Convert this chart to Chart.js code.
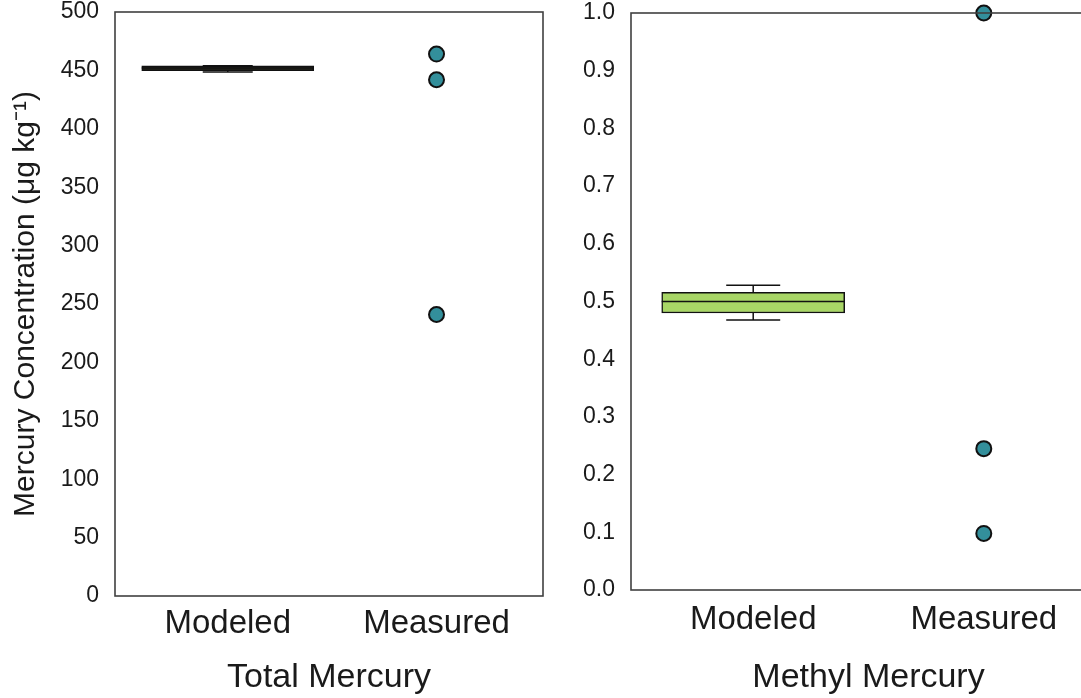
<!DOCTYPE html>
<html lang="en">
  <head>
    <meta charset="UTF-8" />
    <title>Mercury Concentration</title>
    <script src="https://cdn.jsdelivr.net/npm/chart.js"></script>
    <style>
      html,
      body {
        margin: 0;
        width: 1081px;
        height: 698px;
        overflow: hidden;
        background: #fff;
      }
      canvas {
        position: absolute;
        top: 0;
      }
      #chartTotal {
        left: 0;
      }
      #chartMethyl {
        left: 560px;
      }
    </style>
  </head>

  <body>
    <canvas id="chartTotal" width="560" height="698"></canvas>
    <canvas id="chartMethyl" width="563" height="698"></canvas>
  </body>
</html>

<script>
  // categories on the x axis (0 = Modeled, 1 = Measured)
  const categorias = ["Modeled", "Measured"];

  // box summaries: [whisker low, q1, median, q3, whisker high]
  const totalModeledBox = [448.6, 449.8, 452, 454.0, 454.0];
  const metilModeledBox = [0.468, 0.48, 0.5, 0.516, 0.528];

  // measured samples
  const totalMedido = [464, 442, 241];
  const metilMedido = [1.0, 0.245, 0.098];

  // y tick setup
  const totalTicks = { min: 0, max: 500, step: 50 };
  const metilTicks = { min: 0, max: 1, step: 0.1 };

  const fonte = "'Liberation Sans', Arial, sans-serif";
  const corTexto = "#1a1a1a";
  const corMoldura = "#404040";

  // whiskers, caps and median line drawn on top of the box bars
  const bigodes = {
    id: "bigodes",
    afterDatasetsDraw(chart, args, opts) {
      const ctx = chart.ctx;
      const x = chart.scales.x;
      const y = chart.scales.y;
      const b = opts.box;
      const cx = x.getPixelForValue(0);
      const half = opts.boxWidth / 2;
      const cap = opts.capWidth / 2;
      ctx.save();
      ctx.strokeStyle = "#111";
      ctx.lineWidth = 1.5;
      ctx.beginPath();
      // lower whisker
      ctx.moveTo(cx, y.getPixelForValue(b[1]));
      ctx.lineTo(cx, y.getPixelForValue(b[0]));
      ctx.moveTo(cx - cap, y.getPixelForValue(b[0]));
      ctx.lineTo(cx + cap, y.getPixelForValue(b[0]));
      // upper whisker
      ctx.moveTo(cx, y.getPixelForValue(b[3]));
      ctx.lineTo(cx, y.getPixelForValue(b[4]));
      ctx.moveTo(cx - cap, y.getPixelForValue(b[4]));
      ctx.lineTo(cx + cap, y.getPixelForValue(b[4]));
      // median
      ctx.moveTo(cx - half, y.getPixelForValue(b[2]));
      ctx.lineTo(cx + half, y.getPixelForValue(b[2]));
      ctx.stroke();
      ctx.restore();
    },
  };

  // frame around the plotting area
  const moldura = {
    id: "moldura",
    afterDraw(chart) {
      const a = chart.chartArea;
      const ctx = chart.ctx;
      ctx.save();
      ctx.strokeStyle = corMoldura;
      ctx.lineWidth = 1.6;
      ctx.strokeRect(a.left, a.top, a.right - a.left, a.bottom - a.top);
      ctx.restore();
    },
  };

  function criarGrafico(id, cfg) {
    const box = cfg.box;
    return new Chart(document.getElementById(id), {
      type: "scatter",
      data: {
        datasets: [
          {
            type: "bar",
            data: [{ x: 0, y: [box[1], box[3]] }],
            backgroundColor: cfg.boxColor,
            borderColor: "#111",
            borderWidth: 1.5,
            borderSkipped: false,
            barThickness: cfg.boxWidth,
          },
          {
            type: "scatter",
            data: cfg.medidos.map((v) => ({ x: 1, y: v })),
            backgroundColor: "#338f9b",
            borderColor: "#111",
            borderWidth: 2,
            pointRadius: 7.5,
            clip: false,
          },
        ],
      },
      options: {
        responsive: false,
        animation: false,
        devicePixelRatio: 1,
        layout: {
          autoPadding: false,
          padding: { top: cfg.top, right: 17, left: 0, bottom: 0 },
        },
        plugins: {
          legend: { display: false },
          tooltip: { enabled: false },
          bigodes: { box: box, boxWidth: cfg.boxWidth, capWidth: cfg.capWidth },
        },
        scales: {
          x: {
            type: "linear",
            offset: false,
            min: cfg.xMin,
            max: cfg.xMax,
            grid: { display: false, drawTicks: false },
            border: { display: false },
            afterBuildTicks(scale) {
              scale.ticks = [{ value: 0 }, { value: 1 }];
            },
            afterFit(scale) {
              scale.height = cfg.xHeight;
            },
            ticks: {
              padding: cfg.xPad,
              color: corTexto,
              font: { family: fonte, size: 33 },
              callback: (v) => categorias[v],
            },
            title: {
              display: true,
              text: cfg.xTitle,
              color: corTexto,
              font: { family: fonte, size: 34 },
              padding: { top: 8, bottom: 0 },
            },
          },
          y: {
            min: cfg.ticks.min,
            max: cfg.ticks.max,
            grid: { display: false, drawTicks: false },
            border: { display: false },
            afterFit(scale) {
              scale.width = cfg.yWidth;
              scale.paddingTop = 0;
            },
            ticks: {
              stepSize: cfg.ticks.step,
              padding: 16,
              color: corTexto,
              font: { family: fonte, size: 23 },
              callback: cfg.fmt,
            },
            title: {
              display: cfg.yTitle !== "",
              text: cfg.yTitle,
              color: corTexto,
              font: { family: fonte, size: 30 },
              padding: { top: 8, bottom: 0 },
            },
          },
        },
      },
      plugins: [bigodes, moldura],
    });
  }

  criarGrafico("chartTotal", {
    box: totalModeledBox,
    medidos: totalMedido,
    ticks: totalTicks,
    boxColor: "#2b2b1f",
    boxWidth: 172,
    capWidth: 50,
    xMin: -0.54,
    xMax: 1.51,
    top: 12,
    xHeight: 102,
    xPad: 8,
    yWidth: 115,
    xTitle: "Total Mercury",
    yTitle: "Mercury Concentration (\u03bcg kg\u207b\u00b9)",
    fmt: (v) => v,
  });

  criarGrafico("chartMethyl", {
    box: metilModeledBox,
    medidos: metilMedido,
    ticks: metilTicks,
    boxColor: "#a8d666",
    boxWidth: 183,
    capWidth: 54,
    xMin: -0.53,
    xMax: 1.53,
    top: 13,
    xHeight: 108,
    xPad: 10,
    yWidth: 71,
    xTitle: "Methyl Mercury",
    yTitle: "",
    fmt: (v) => v.toFixed(1),
  });
</script>
